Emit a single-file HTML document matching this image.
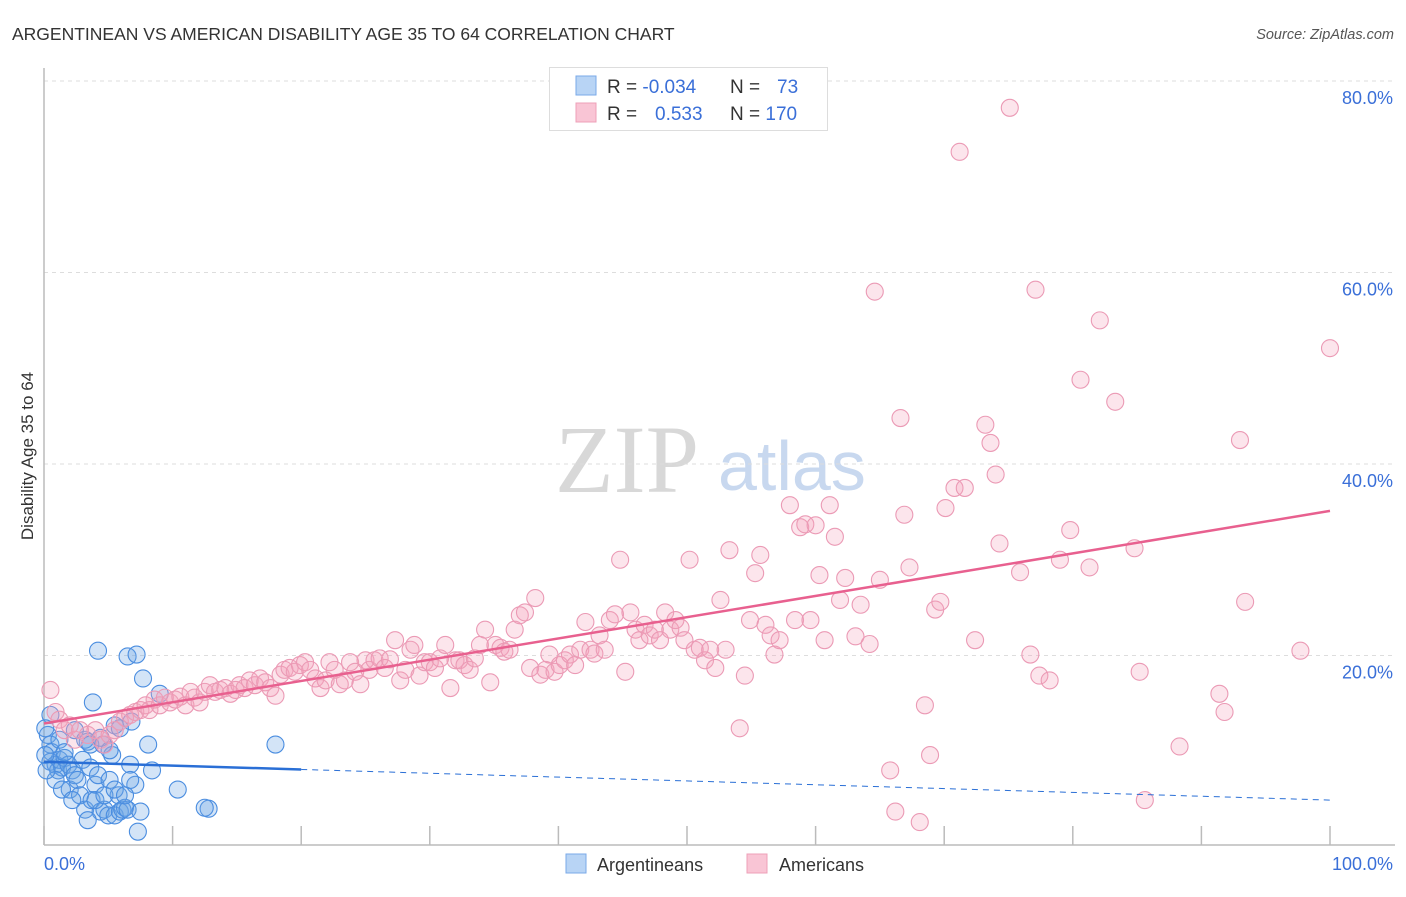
<!DOCTYPE html>
<html><head><meta charset="utf-8"><style>
body{margin:0;background:#fff;font-family:"Liberation Sans",sans-serif;}
</style></head><body>
<svg id="chart" width="1406" height="892" xmlns="http://www.w3.org/2000/svg">
<text x="12" y="40" font-size="17.5" fill="#333">ARGENTINEAN VS AMERICAN DISABILITY AGE 35 TO 64 CORRELATION CHART</text>
<text x="1394" y="39" font-size="14.5" fill="#555" font-style="italic" text-anchor="end">Source: ZipAtlas.com</text>
<text transform="translate(33,456) rotate(-90)" font-size="17" fill="#333" text-anchor="middle">Disability Age 35 to 64</text>
<text x="555" y="492" font-size="96" fill="#d8d8d8" font-family="Liberation Serif,serif">ZIP</text>
<text x="718" y="490" font-size="70" fill="#c8d8ef">atlas</text>
<g id="grid"></g>
<g id="axes"></g>
<g id="blue"></g>
<g id="pink"></g>
<g id="lines"></g>
<g>
<rect x="549.5" y="67.5" width="278" height="63" fill="#fff" stroke="#ddd"/>
<rect x="576" y="76" width="20" height="19" fill="#b8d4f5" stroke="#7aaae8"/>
<rect x="576" y="103" width="20" height="19" fill="#f9c5d5" stroke="#eea0b8"/>
<text x="607" y="93" font-size="19" fill="#333">R = <tspan fill="#3a6fd8">-0.034</tspan></text>
<text x="730" y="93" font-size="19" fill="#333">N = <tspan x="777" fill="#3a6fd8">73</tspan></text>
<text x="607" y="120" font-size="19" fill="#333">R = <tspan x="655" fill="#3a6fd8">0.533</tspan></text>
<text x="730" y="120" font-size="19" fill="#333">N = <tspan fill="#3a6fd8">170</tspan></text>
</g>
<g>
<rect x="566" y="854" width="20" height="19" fill="#b8d4f5" stroke="#7aaae8"/>
<text x="597" y="871" font-size="18" fill="#333">Argentineans</text>
<rect x="747" y="854" width="20" height="19" fill="#f9c5d5" stroke="#eea0b8"/>
<text x="779" y="871" font-size="18" fill="#333">Americans</text>
</g>
</svg>
<script>
const yTicks=[20,40,60,80];
const yTickLabels=["20.0%","40.0%","60.0%","80.0%"];
const xTickVals=[0,10,20,30,40,50,60,70,80,90,100];
const xEndLabels=["0.0%","100.0%"];
const blueX=[0.5,0.3,0.5,0.6,0.5,0.9,1.1,1.2,1.4,1.6,1.9,2.0,2.2,2.4,2.6,2.8,3.0,3.2,3.4,3.6,3.7,4.0,4.2,4.4,4.6,4.7,5.0,5.1,5.3,5.5,5.8,5.9,6.1,6.3,6.5,6.7,6.8,7.1,7.3,7.5,4.2,6.5,7.2,7.7,3.8,9.0,5.5,8.1,8.4,10.4,12.8,18.0,1.2,1.6,2.4,3.2,3.6,4.4,5.1,5.9,0.9,0.1,0.2,1.4,2.2,3.4,4.0,4.7,5.5,6.3,6.7,0.1,12.5];
const blueY=[13.8,11.7,10.7,9.9,8.9,8.6,8.0,9.1,8.3,9.3,8.6,6.0,8.0,7.5,7.0,5.4,9.1,3.9,11.0,8.3,4.9,6.5,7.5,3.7,10.7,3.9,3.3,7.0,9.6,3.3,5.4,3.7,3.9,4.1,3.9,8.6,13.1,6.5,1.6,3.7,20.5,19.9,20.1,17.6,15.1,16.0,12.7,10.7,8.0,6.0,4.0,10.7,11.2,9.9,12.2,11.2,10.7,11.4,10.1,12.4,7.0,9.6,8.0,6.0,4.9,2.8,4.9,5.4,6.0,5.4,7.0,12.4,4.1];
const pinkX=[0.5,0.9,1.2,1.6,2.0,2.4,2.8,3.4,4.0,4.4,4.7,5.1,5.5,5.9,6.3,6.7,7.1,7.5,7.9,8.2,8.6,9.0,9.4,9.8,10.2,10.6,11.0,11.4,11.7,12.1,12.5,12.9,13.3,13.7,14.1,14.5,14.9,15.2,15.6,16.0,16.4,16.8,17.2,17.6,18.0,18.4,18.7,19.1,19.5,19.9,20.3,20.7,21.1,21.5,21.9,22.2,22.6,23.0,23.4,23.8,24.2,24.6,25.0,25.3,25.7,26.1,26.5,26.9,27.3,27.7,28.1,28.5,28.8,29.2,29.6,30.0,30.4,30.8,31.2,31.6,32.0,32.3,32.7,33.1,33.5,33.9,34.3,34.7,35.1,35.5,35.8,36.2,36.6,37.0,37.4,37.8,38.2,38.6,39.0,39.3,39.7,40.1,40.5,40.9,41.3,41.7,42.1,42.5,42.8,43.2,43.6,44.0,44.4,44.8,45.2,45.6,46.0,46.3,46.7,47.1,47.5,47.9,48.3,48.7,49.1,49.5,49.8,50.2,50.6,51.0,51.4,51.8,52.2,52.6,53.0,53.3,54.1,54.5,54.9,55.3,55.7,56.1,56.5,56.8,57.2,58.0,58.4,58.8,59.2,59.6,60.0,60.3,60.7,61.1,61.5,61.9,62.3,63.1,63.5,64.2,64.6,65.0,65.8,66.2,66.6,66.9,67.3,68.1,68.5,68.9,69.3,69.7,70.1,70.8,71.2,71.6,72.4,73.2,73.6,74.0,74.3,75.1,75.9,76.7,77.1,77.4,78.2,79.0,79.8,80.6,81.3,82.1,83.3,84.8,85.2,85.6,88.3,91.4,91.8,93.0,93.4,97.7,100];
const pinkY=[16.4,14.1,13.3,12.2,12.7,11.2,12.2,11.7,12.2,11.2,10.7,11.7,12.2,13.1,13.5,13.8,14.1,14.3,14.8,14.3,15.4,14.8,15.6,15.1,15.4,15.7,14.8,16.2,15.6,15.1,16.2,16.9,16.2,16.4,16.6,16.0,16.4,16.9,16.6,17.4,16.9,17.6,17.2,16.6,15.8,18.0,18.5,18.7,18.3,19.0,19.3,18.5,17.6,16.6,17.4,19.3,18.5,17.0,17.4,19.3,18.3,17.0,19.5,18.5,19.5,19.7,18.7,19.6,21.6,17.4,18.5,20.6,21.1,17.9,19.3,19.3,18.7,19.7,21.1,16.6,19.5,19.5,19.0,18.5,19.7,21.1,22.7,17.2,21.1,20.8,20.4,20.6,22.7,24.2,24.5,18.7,26.0,18.0,18.5,20.1,18.3,19.0,19.5,20.1,19.0,20.6,23.5,20.6,20.2,22.1,20.6,23.7,24.3,30.0,18.3,24.5,22.7,21.6,23.2,22.1,22.7,21.6,24.5,22.7,23.7,22.9,21.6,30.0,20.6,20.8,19.5,20.6,18.7,25.8,20.6,31.0,12.4,17.9,23.7,28.6,30.5,23.2,22.1,20.1,21.6,35.7,23.7,33.4,33.7,23.7,33.6,28.4,21.6,35.7,32.4,25.8,28.1,22.0,25.3,21.2,58.0,27.9,8.0,3.7,44.8,34.7,29.2,2.6,14.8,9.6,24.8,25.6,35.4,37.5,72.6,37.5,21.6,44.1,42.2,38.9,31.7,77.2,28.7,20.1,58.2,17.9,17.4,30.0,33.1,48.8,29.2,55.0,46.5,31.2,18.3,4.9,10.5,16.0,14.1,42.5,25.6,20.5,52.1];
const blueTrend=[8.9,4.9];
const pinkTrend=[12.9,35.1];
const blueSolidEnd=20;

const NS="http://www.w3.org/2000/svg";
const X0=44,X1=1330,Y0=847,YPER=191.5/20;
function sx(v){return X0+(X1-X0)*v/100;}
function sy(v){return Y0-v*YPER;}
function mk(tag,attrs,parent){const e=document.createElementNS(NS,tag);for(const k in attrs)e.setAttribute(k,attrs[k]);parent.appendChild(e);return e;}
const grid=document.getElementById('grid'),axes=document.getElementById('axes');
yTicks.forEach((t,i)=>{
  const l=mk('line',{x1:X0,x2:1395,y1:sy(t),y2:sy(t),stroke:'#ddd','stroke-dasharray':'4,4'},grid);
  
  
  const tx=mk('text',{x:1393,y:sy(t)+23,'font-size':18,fill:'#3a6fd8','text-anchor':'end'},axes);
  tx.textContent=yTickLabels[i];
  
  
});
const ya=mk('line',{x1:X0,x2:X0,y1:68,y2:845,stroke:'#bbb','stroke-width':1.5},axes);


const xa=mk('line',{x1:X0,x2:1395,y1:845,y2:845,stroke:'#bbb','stroke-width':1.5},axes);


xTickVals.forEach(v=>{
  const t=mk('line',{x1:sx(v),x2:sx(v),y1:826,y2:845,stroke:'#bbb','stroke-width':1.5},axes);
  
  
});
const xl0=mk('text',{x:44,y:870,'font-size':18,fill:'#3a6fd8'},axes);xl0.textContent=xEndLabels[0];


const xl1=mk('text',{x:1393,y:870,'font-size':18,fill:'#3a6fd8','text-anchor':'end'},axes);xl1.textContent=xEndLabels[1];



const bg=document.getElementById('blue'),pg=document.getElementById('pink');
blueX.forEach((v,i)=>{
  const c=mk('circle',{cx:sx(v),cy:sy(blueY[i]),r:8.5,fill:'rgba(110,165,230,0.3)',stroke:'#4a8de0','stroke-width':1.1},bg);
  
  
});
pinkX.forEach((v,i)=>{
  const c=mk('circle',{cx:sx(v),cy:sy(pinkY[i]),r:8.5,fill:'rgba(245,160,185,0.28)',stroke:'#eb9ab5','stroke-width':1.1},pg);
  
  
});
const lg=document.getElementById('lines');
function bAt(x){return blueTrend[0]+(blueTrend[1]-blueTrend[0])*x/100;}
const b1=mk('line',{x1:sx(0),y1:sy(bAt(0)),x2:sx(blueSolidEnd),y2:sy(bAt(blueSolidEnd)),stroke:'#2a6fd6','stroke-width':2.5},lg);


const b2=mk('line',{x1:sx(blueSolidEnd),y1:sy(bAt(blueSolidEnd)),x2:sx(100),y2:sy(bAt(100)),stroke:'#2a6fd6','stroke-width':1,'stroke-dasharray':'6,5'},lg);


const p1=mk('line',{x1:sx(0),y1:sy(pinkTrend[0]),x2:sx(100),y2:sy(pinkTrend[1]),stroke:'#e8608f','stroke-width':2.5},lg);


</script>
</body></html>
